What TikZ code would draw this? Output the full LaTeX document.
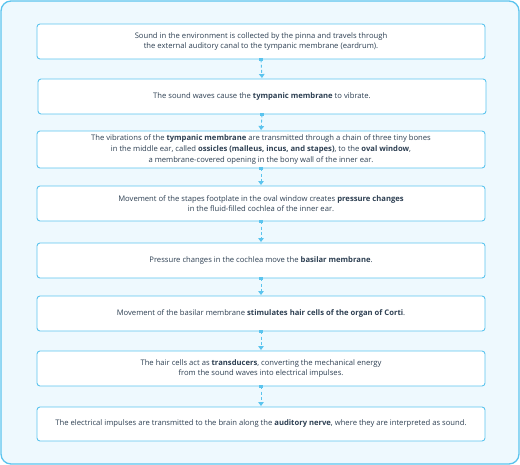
\documentclass[tikz,border=0pt]{standalone}
\usepackage{fontspec}
\setmainfont{Open Sans}
\usetikzlibrary{arrows.meta}
\definecolor{frameblue}{HTML}{5BC4EE}
\definecolor{bgblue}{HTML}{EEF9FE}
\definecolor{txt}{HTML}{2E4053}
\tikzset{
  stepbox/.style={draw=frameblue, line width=0.9bp, fill=white, rounded corners=3bp,
    minimum width=448bp, minimum height=35bp, align=center, inner sep=0pt,
    font=\fontsize{7.65bp}{10.7bp}\selectfont, text=txt},
  flow/.style={draw=frameblue, line width=0.9bp, dash pattern=on 3bp off 2.2bp,
    -{Triangle[width=5.5bp,length=4bp]}, shorten >=0.5bp},
  startdot/.style={fill=frameblue, inner sep=0pt, minimum size=3.5bp}
}
\begin{document}
\begin{tikzpicture}[x=1bp,y=-1bp]
\useasboundingbox (0,0) rectangle (520,465);
\draw[frameblue, line width=1.3bp, fill=bgblue, rounded corners=10bp] (1,1) rectangle (519,464);
\node[stepbox] (b1) at (261,41.5) {Sound in the environment is collected by the pinna and travels through\\the external auditory canal to the tympanic membrane (eardrum).};
\node[stepbox] (b2) at (262,96.5) {The sound waves cause the \textbf{tympanic membrane} to vibrate.};
\node[stepbox, minimum height=37bp] (b3) at (261,149.5) {The vibrations of the \textbf{tympanic membrane} are transmitted through a chain of three tiny bones\\in the middle ear, called \textbf{ossicles (malleus, incus, and stapes)}, to the \textbf{oval window},\\a membrane-covered opening in the bony wall of the inner ear.};
\node[stepbox] (b4) at (261,203.5) {Movement of the stapes footplate in the oval window creates \textbf{pressure changes}\\in the fluid-filled cochlea of the inner ear.};
\node[stepbox] (b5) at (261,260.5) {Pressure changes in the cochlea move the \textbf{basilar membrane}.};
\node[stepbox] (b6) at (261,313.5) {Movement of the basilar membrane \textbf{stimulates hair cells of the organ of Corti}.};
\node[stepbox] (b7) at (261,368.5) {The hair cells act as \textbf{transducers}, converting the mechanical energy\\from the sound waves into electrical impulses.};
\node[stepbox, minimum height=34bp] (b8) at (261,424) {The electrical impulses are transmitted to the brain along the \textbf{auditory nerve}, where they are interpreted as sound.};
\foreach \a/\b in {b1/b2,b2/b3,b3/b4,b4/b5,b5/b6,b6/b7,b7/b8}{
  \node[startdot] (d\a) at (\a.south) {};
  \draw[flow] (d\a.center) -- (\b.north);
}
\end{tikzpicture}
\end{document}
